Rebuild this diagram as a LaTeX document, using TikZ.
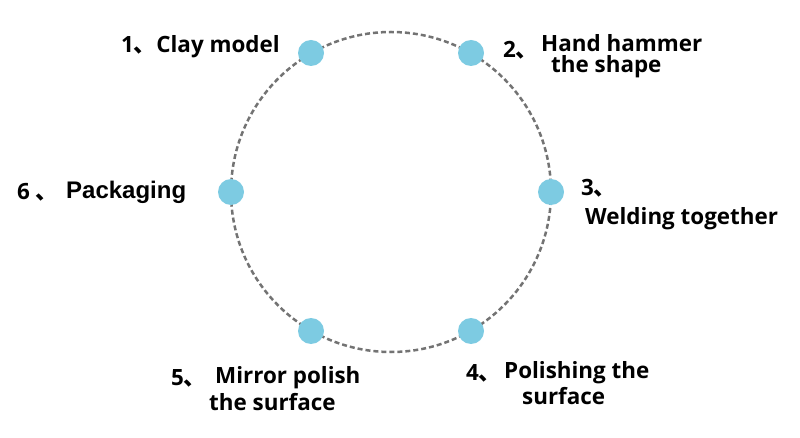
\documentclass[tikz,border=0pt]{standalone}
\usepackage{fontspec}
\setmainfont{Open Sans}
\newfontfamily\arialb{Liberation Sans}
\newfontfamily\cjk{Noto Sans CJK SC}
\newcommand{\dun}{{\cjk\bfseries 、}}
\definecolor{dotblue}{RGB}{125,203,226}
\definecolor{ringgray}{RGB}{115,115,115}
\tikzset{
  dotnode/.style={circle,fill=dotblue,minimum size=26pt,inner sep=0pt},
  lbl/.style={inner sep=0pt,font=\fontsize{22.4}{24}\selectfont\bfseries,text=black},
  ring/.style={draw=ringgray,line width=2.5pt,dash pattern=on 5pt off 3pt}
}
\begin{document}
\begin{tikzpicture}[x=1pt,y=-1pt]
\useasboundingbox (0,0) rectangle (800,438);
\coordinate (c) at (391,192);
\draw[ring] (c) circle[radius=160];
\node[dotnode] (d1) at (311,53) {};
\node[dotnode] (d2) at (471,53) {};
\node[dotnode] (d3) at (551,192) {};
\node[dotnode] (d4) at (471,331) {};
\node[dotnode] (d5) at (311,331) {};
\node[dotnode] (d6) at (231,192) {};
% 1
\node[lbl,anchor=west] (t1) at (121,47) {1\dun Clay model};
% 2
\node[lbl,anchor=west] (n2) at (503,50) {2\dun};
\node[lbl,anchor=west] (t2a) at (541,43) {Hand hammer};
\node[lbl,anchor=west] (t2b) at (551,67) {the shape};
% 3
\node[lbl,anchor=west] (n3) at (581,188) {3\dun};
\node[lbl,anchor=west] (t3) at (585,219) {Welding together};
% 4
\node[lbl,anchor=west] (n4) at (466,373) {4\dun};
\node[lbl,anchor=west] (t4a) at (504,373) {Polishing the};
\node[lbl,anchor=west] (t4b) at (522,396) {surface};
% 5
\node[lbl,anchor=west] (n5) at (171,378) {5\dun};
\node[lbl,anchor=west] (t5a) at (215,378) {Mirror polish};
\node[lbl,anchor=west] (t5b) at (209,402) {the surface};
% 6
\node[lbl,anchor=west] (n6) at (17,192) {6 \dun};
\node[inner sep=0pt,anchor=west,font=\arialb\fontsize{24}{26}\selectfont\bfseries] (t6) at (66,192) {Packaging};
\end{tikzpicture}
\end{document}
